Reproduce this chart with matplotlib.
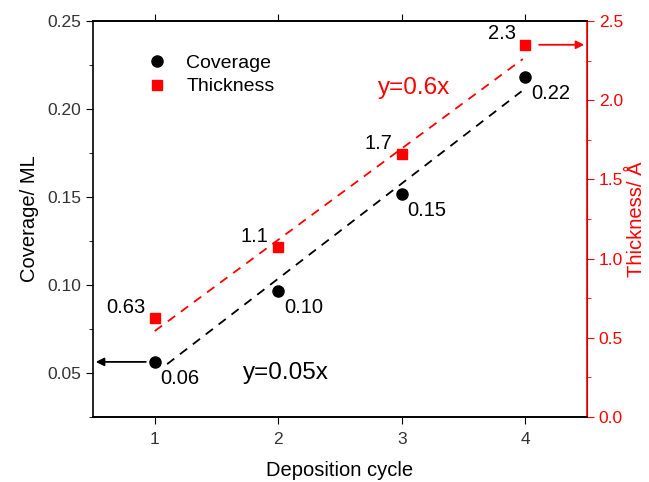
import numpy as np
import matplotlib
matplotlib.use("Agg")
import matplotlib.pyplot as plt
from matplotlib.ticker import MultipleLocator

plt.rcParams['font.family'] = ['Liberation Sans', 'DejaVu Sans']

cycles = [1, 2, 3, 4]
coverage = [0.0563, 0.0966, 0.1517, 0.218]
thickness = [0.625, 1.073, 1.66, 2.35]
cov_labels = ["0.06", "0.10", "0.15", "0.22"]
thk_labels = ["0.63", "1.1", "1.7", "2.3"]

fig = plt.figure(figsize=(6.49, 4.82), dpi=100)
ax = fig.add_axes([0.1433, 0.1349, 0.9045 - 0.1433, 0.9564 - 0.1349])
ax2 = ax.twinx()

# fits
c_cov = np.polyfit(cycles, coverage, 1)
c_thk = np.polyfit(cycles, thickness, 1)
xf1 = np.array([1.1, 3.97])
xf2 = np.array([1.0, 3.98])
ax.plot(xf1, np.polyval(c_cov, xf1), ls=(0, (5, 4)), color='black', lw=1.3)
ax2.plot(xf2, np.polyval(c_thk, xf2) - 0.02, ls=(0, (5, 4)), color='red', lw=1.3)

l1, = ax.plot(cycles, coverage, 'o', color='black', ms=8, label='Coverage')
l2, = ax2.plot(cycles, thickness, 's', color='red', ms=7, label='Thickness')

for x, y, t in zip(cycles, coverage, cov_labels):
    ax.annotate(t, (x, y), xytext=(4, -5), textcoords='offset points',
                ha='left', va='top', fontsize=14.5)
for x, y, t in zip(cycles, thickness, thk_labels):
    ax2.annotate(t, (x, y), xytext=(-7, 1), textcoords='offset points',
                 ha='right', va='bottom', fontsize=14.5)

ax.text(2.06, 0.05, "y=0.05x", fontsize=17.5, ha='center', va='center')
ax2.text(3.1, 2.08, "y=0.6x", fontsize=17.5, ha='center', va='center', color='red')

# arrows
ax.annotate("", xy=(0.5, coverage[0]), xytext=(0.95, coverage[0]),
            arrowprops=dict(arrowstyle='-|>', color='black', lw=1.3, mutation_scale=12))
ax2.annotate("", xy=(4.5, thickness[3]), xytext=(4.09, thickness[3]),
             arrowprops=dict(arrowstyle='-|>', color='red', lw=1.3, mutation_scale=12))

ax.set_xlim(0.5, 4.5)
ax.set_ylim(0.025, 0.25)
ax2.set_ylim(0, 2.5)
ax.set_xticks(cycles)
ax.yaxis.set_major_locator(MultipleLocator(0.05))
ax.yaxis.set_minor_locator(MultipleLocator(0.025))
ax2.yaxis.set_major_locator(MultipleLocator(0.5))
ax2.yaxis.set_minor_locator(MultipleLocator(0.25))
ax.yaxis.set_major_formatter(matplotlib.ticker.FormatStrFormatter('%.2f'))
ax2.yaxis.set_major_formatter(matplotlib.ticker.FormatStrFormatter('%.1f'))

ax.tick_params(axis='both', which='both', direction='out', labelsize=12.5, colors='black', labelcolor='#333333')
ax.tick_params(axis='x', top=True, which='major', length=5, pad=6)
ax.tick_params(axis='y', which='major', length=5)
ax.tick_params(axis='y', which='minor', length=3)
ax2.tick_params(axis='y', which='both', colors='red', labelsize=12.5)
ax2.tick_params(axis='y', which='major', length=5)
ax2.tick_params(axis='y', which='minor', length=3)
for s in ['left', 'bottom', 'top']:
    ax.spines[s].set_linewidth(1.2)
ax2.spines['right'].set_color('red')
ax2.spines['right'].set_linewidth(1.2)
ax2.spines['left'].set_visible(False)
ax2.spines['top'].set_linewidth(1.2)
ax2.spines['bottom'].set_linewidth(1.2)

ax.set_xlabel("Deposition cycle", fontsize=14.5, labelpad=10)
ax.set_ylabel("Coverage/ ML", fontsize=14.5, labelpad=6)
ax2.set_ylabel("Thickness/ Å", fontsize=14.5, color='red', labelpad=3)

ax.legend([l1, l2], ['Coverage', 'Thickness'], loc='upper left',
          bbox_to_anchor=(0.055, 0.96), frameon=False, fontsize=14,
          handletextpad=0.5, labelspacing=0.3)

fig.savefig("out.png", dpi=100)
